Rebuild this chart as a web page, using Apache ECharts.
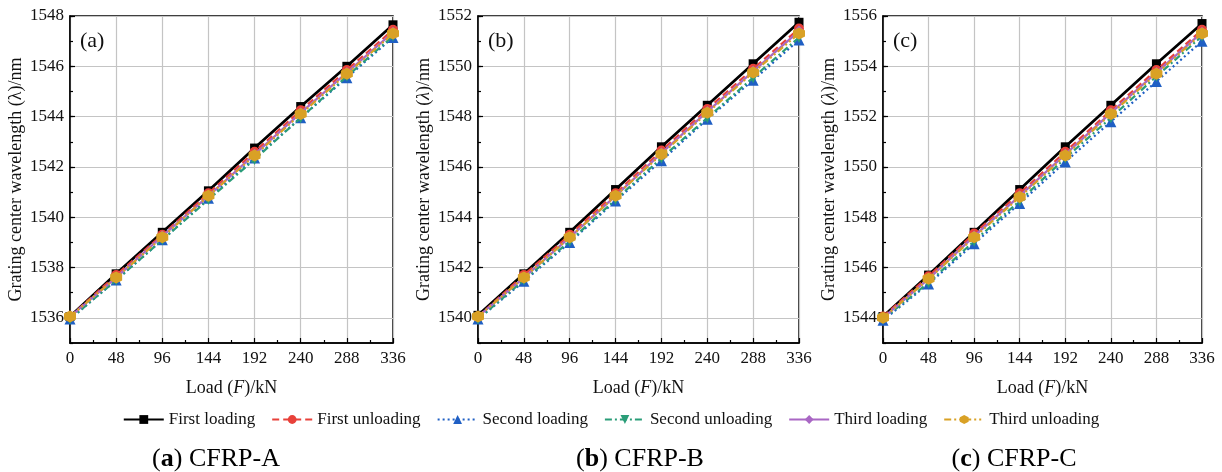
<!DOCTYPE html>
<html>
<head>
<meta charset="utf-8">
<script src="https://cdn.jsdelivr.net/npm/echarts@6/dist/echarts.min.js"></script>
<style>
  html, body { margin: 0; padding: 0; background: #fff; }
  #chart { width: 1222px; height: 472px; }
</style>
</head>
<body>
<div id="chart"></div>
<script>
// load steps (kN)
var loads = [0, 48, 96, 144, 192, 240, 288, 336];
var seriesNames = ['First loading', 'First unloading', 'Second loading', 'Second unloading', 'Third loading', 'Third unloading'];

// (a) CFRP-A
var aFirstLoad    = [1536.05, 1537.75, 1539.40, 1541.05, 1542.75, 1544.40, 1546.00, 1547.65];
var aFirstUnload  = [1536.05, 1537.70, 1539.30, 1540.95, 1542.60, 1544.25, 1545.85, 1547.45];
var aSecondLoad   = [1535.95, 1537.50, 1539.10, 1540.75, 1542.35, 1543.95, 1545.55, 1547.15];
var aSecondUnload = [1535.95, 1537.50, 1539.10, 1540.70, 1542.30, 1543.95, 1545.60, 1547.20];
var aThirdLoad    = [1536.05, 1537.60, 1539.25, 1540.85, 1542.50, 1544.15, 1545.75, 1547.35];
var aThirdUnload  = [1536.05, 1537.60, 1539.20, 1540.85, 1542.45, 1544.10, 1545.70, 1547.30];

// (b) CFRP-B
var bFirstLoad    = [1540.10, 1541.75, 1543.40, 1545.10, 1546.80, 1548.45, 1550.10, 1551.75];
var bFirstUnload  = [1540.05, 1541.70, 1543.30, 1544.95, 1546.65, 1548.30, 1549.90, 1551.50];
var bSecondLoad   = [1539.95, 1541.45, 1543.00, 1544.65, 1546.25, 1547.90, 1549.45, 1551.05];
var bSecondUnload = [1539.95, 1541.50, 1543.05, 1544.70, 1546.35, 1547.95, 1549.55, 1551.15];
var bThirdLoad    = [1540.05, 1541.60, 1543.20, 1544.85, 1546.55, 1548.20, 1549.80, 1551.40];
var bThirdUnload  = [1540.05, 1541.60, 1543.20, 1544.85, 1546.50, 1548.15, 1549.75, 1551.30];

// (c) CFRP-C
var cFirstLoad    = [1544.05, 1545.70, 1547.40, 1549.10, 1550.80, 1552.45, 1554.10, 1555.70];
var cFirstUnload  = [1544.05, 1545.65, 1547.35, 1548.95, 1550.60, 1552.25, 1553.85, 1555.45];
var cSecondLoad   = [1543.90, 1545.35, 1546.95, 1548.55, 1550.20, 1551.80, 1553.40, 1555.00];
var cSecondUnload = [1543.95, 1545.40, 1547.05, 1548.65, 1550.35, 1551.95, 1553.60, 1555.20];
var cThirdLoad    = [1544.00, 1545.55, 1547.25, 1548.85, 1550.50, 1552.15, 1553.75, 1555.35];
var cThirdUnload  = [1544.00, 1545.55, 1547.20, 1548.80, 1550.45, 1552.10, 1553.70, 1555.30];

// labelled y ticks per panel
var aYTicks = [1536, 1538, 1540, 1542, 1544, 1546, 1548];
var bYTicks = [1540, 1542, 1544, 1546, 1548, 1550, 1552];
var cYTicks = [1544, 1546, 1548, 1550, 1552, 1554, 1556];
var panelLetters = ['a', 'b', 'c'];
var captions = ['CFRP-A', 'CFRP-B', 'CFRP-C'];

var panels = [
  [aFirstLoad, aFirstUnload, aSecondLoad, aSecondUnload, aThirdLoad, aThirdUnload],
  [bFirstLoad, bFirstUnload, bSecondLoad, bSecondUnload, bThirdLoad, bThirdUnload],
  [cFirstLoad, cFirstUnload, cSecondLoad, cSecondUnload, cThirdLoad, cThirdUnload]
];
var yTicks = [aYTicks, bYTicks, cYTicks];

var FONT = 'Liberation Serif';
var hexagon = 'path://M0,-10L8.66,-5L8.66,5L0,10L-8.66,5L-8.66,-5Z';
var styles = [
  { color: '#000000', type: 'solid',              width: 2.8, symbol: 'rect',     size: 9,  rotate: 0 },
  { color: '#e8413a', type: [7, 4],               width: 2.2, symbol: 'circle',   size: 10, rotate: 0 },
  { color: '#1f5fc4', type: [2, 3],               width: 2.2, symbol: 'triangle', size: 11, rotate: 0 },
  { color: '#2a9d78', type: [7, 3, 2, 3],         width: 2.2, symbol: 'triangle', size: 11, rotate: 180 },
  { color: '#a967c4', type: 'solid',              width: 2.2, symbol: 'diamond',  size: 11, rotate: 0 },
  { color: '#d9a125', type: [7, 3, 2, 3, 2, 3],   width: 2.2, symbol: hexagon,    size: 12, rotate: 0 }
];

var gridPos = [
  { left: 70,  width: 323, top: 16, height: 327 },
  { left: 478, width: 321, top: 16, height: 327 },
  { left: 883, width: 319, top: 16, height: 327 }
];

var grids = [], xAxes = [], yAxes = [], series = [], titles = [], graphics = [];

gridPos.forEach(function(g, p) {
  grids.push({
    left: g.left, top: g.top, width: g.width, height: g.height,
    show: true, borderColor: '#000', borderWidth: 1.5, backgroundColor: 'transparent'
  });

  xAxes.push({
    type: 'value', gridIndex: p, min: 0, max: 336, interval: 48,
    name: '{n|Load (}{i|F}{n|)/kN}', nameLocation: 'middle', nameGap: 36,
    nameTextStyle: { rich: {
      n: { fontFamily: FONT, fontSize: 18, color: '#111' },
      i: { fontFamily: FONT, fontSize: 18, color: '#111', fontStyle: 'italic' }
    } },
    axisLine: { lineStyle: { color: '#000', width: 1.5 } },
    axisTick: { inside: true, length: 5, lineStyle: { color: '#000', width: 1.2 } },
    minorTick: { show: true, splitNumber: 2, length: 3, lineStyle: { color: '#000', width: 1.2 } },
    axisLabel: { fontFamily: FONT, fontSize: 17, color: '#111', margin: 7 },
    splitLine: { show: true, lineStyle: { color: '#c4c4c4', width: 1.2 } }
  });

  var lam = p === 0 ? 'n' : 'i';
  var ymin = yTicks[p][0] - 1, ymax = yTicks[p][yTicks[p].length - 1];
  yAxes.push({
    type: 'value', gridIndex: p, min: ymin, max: ymax, interval: 1,
    name: '{n|Grating center wavelength (}{' + lam + '|λ}{n|)/nm}',
    nameLocation: 'middle', nameGap: 45, nameRotate: 90,
    nameTextStyle: { rich: {
      n: { fontFamily: FONT, fontSize: 18, color: '#111' },
      i: { fontFamily: FONT, fontSize: 18, color: '#111', fontStyle: 'italic' }
    } },
    axisLine: { show: true, lineStyle: { color: '#000', width: 1.5 } },
    axisTick: { inside: true, length: 5, customValues: yTicks[p], lineStyle: { color: '#000', width: 1.2 } },
    axisLabel: {
      fontFamily: FONT, fontSize: 17, color: '#111', margin: 6, customValues: yTicks[p],
      formatter: function(v) { return String(v); }
    },
    splitLine: { show: true, lineStyle: { color: '#c4c4c4', width: 1.2 } }
  });

  titles.push({
    text: '(' + panelLetters[p] + ')',
    left: g.left + 5, top: 25,
    textStyle: { fontFamily: FONT, fontSize: 22, fontWeight: 'normal', color: '#111' }
  });

  panels[p].forEach(function(vals, k) {
    var s = styles[k];
    series.push({
      name: seriesNames[k], type: 'line', xAxisIndex: p, yAxisIndex: p,
      data: loads.map(function(x, i) { return [x, vals[i]]; }),
      symbol: s.symbol, symbolSize: s.size, symbolRotate: s.rotate,
      lineStyle: { color: s.color, width: s.width, type: s.type },
      itemStyle: { color: s.color },
      z: 2 + k, animation: false
    });
  });
});

// odd-value minor ticks on y axes (overlay axes, same range)
gridPos.forEach(function(g, p) {
  yAxes.push({
    type: 'value', gridIndex: p, position: 'left',
    min: yTicks[p][0] - 1, max: yTicks[p][yTicks[p].length - 1], interval: 1,
    axisLine: { show: false },
    axisTick: { inside: true, length: 3, lineStyle: { color: '#000', width: 1.2 } },
    axisLabel: { show: false },
    splitLine: { show: false }
  });
});

// captions below each panel
var captionX = [216, 640, 1014];
captions.forEach(function(c, p) {
  graphics.push({
    type: 'text', x: captionX[p], y: 459,
    style: {
      text: '{n|(}{b|' + panelLetters[p] + '}{n|) ' + c + '}',
      align: 'center', verticalAlign: 'middle',
      rich: {
        n: { fontFamily: FONT, fontSize: 26, color: '#111' },
        b: { fontFamily: FONT, fontSize: 26, color: '#111', fontWeight: 'bold' }
      }
    }
  });
});

var chart = echarts.init(document.getElementById('chart'));
chart.setOption({
  backgroundColor: '#fff',
  animation: false,
  title: titles,
  grid: grids,
  xAxis: xAxes,
  yAxis: yAxes,
  legend: {
    data: seriesNames, left: 'center', top: 406,
    itemWidth: 40, itemHeight: 11, itemGap: 16,
    textStyle: { fontFamily: FONT, fontSize: 17, color: '#111' }
  },
  graphic: graphics,
  series: series
});
</script>
</body>
</html>
